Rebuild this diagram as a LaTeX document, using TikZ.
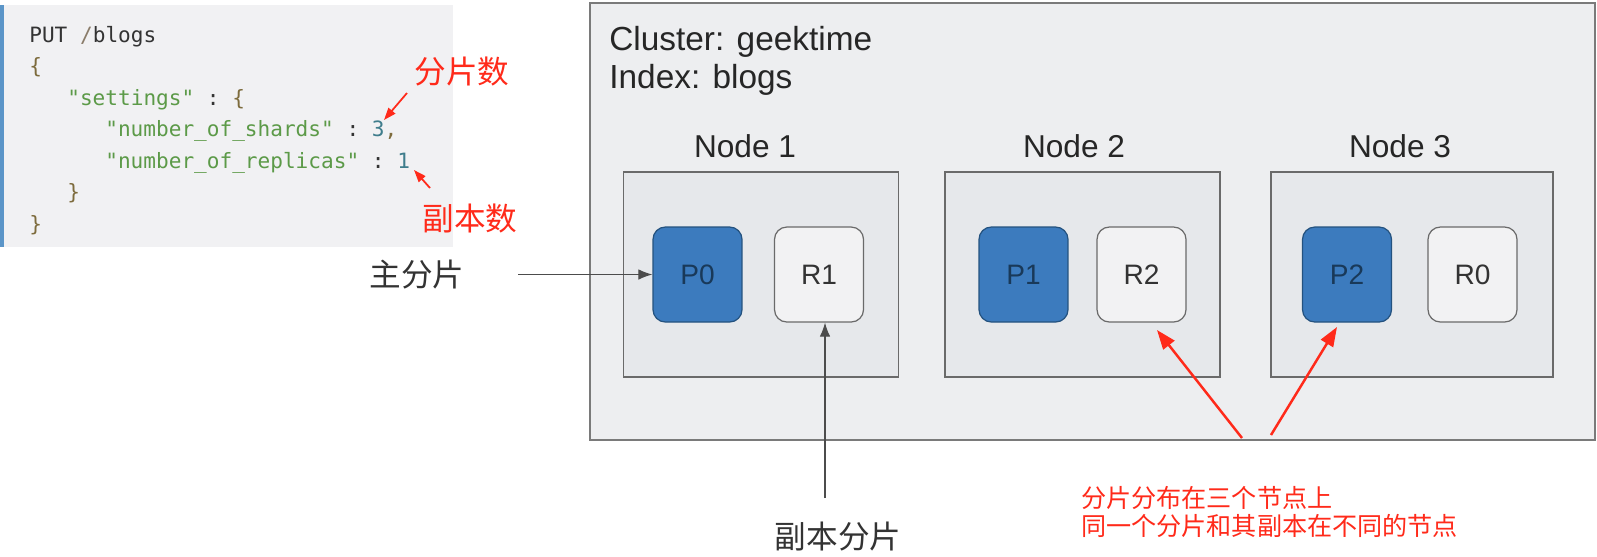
\documentclass[tikz,border=0pt]{standalone}
\usepackage{fontspec}
\setmainfont{Liberation Sans}
\setmonofont{DejaVu Sans Mono}
\newfontfamily\cjk{Noto Sans CJK SC}
\usepackage{tikz}
\usetikzlibrary{positioning,arrows.meta}

\definecolor{codebg}{HTML}{F1F1F3}
\definecolor{codebar}{HTML}{5B95C8}
\definecolor{codetxt}{HTML}{333333}
\definecolor{codeslash}{HTML}{8A7C6A}
\definecolor{codebrace}{HTML}{7D6B3C}
\definecolor{codestr}{HTML}{5C9A48}
\definecolor{codenum}{HTML}{3F7D8C}
\definecolor{clusterbg}{HTML}{EDEEF0}
\definecolor{clusterline}{HTML}{7A7A7A}
\definecolor{hostbg}{HTML}{E6E8EB}
\definecolor{hostline}{HTML}{6A6A6A}
\definecolor{primfill}{HTML}{3C7BBE}
\definecolor{primline}{HTML}{24527F}
\definecolor{repfill}{HTML}{F2F2F3}
\definecolor{noteRed}{HTML}{FF2A1A}

\begin{document}
\begin{tikzpicture}[
x=0.02cm, y=-0.02cm,
code/.style={
  font=\ttfamily\fontsize{12}{14}\selectfont,
  text=codetxt,
  anchor=base west,
  inner sep=0pt
  },
host/.style={
  draw=hostline,
  fill=hostbg,
  line width=0.8pt,
  minimum height=4.1cm
  },
shard/.style={
  draw=hostline,
  line width=0.7pt,
  rounded corners=7pt,
  minimum width=1.78cm,
  minimum height=1.9cm,
  font=\fontsize{16}{18}\selectfont
  },
primary/.style={
  shard,
  draw=primline,
  fill=primfill,
  text=primline!70!black
  },
replica/.style={
  shard,
  fill=repfill,
  text=codetxt
  },
hostlbl/.style={
  font=\fontsize{18}{20}\selectfont,
  text=black!85
  },
redlbl/.style={
  font=\cjk\fontsize{18}{20}\selectfont,
  text=noteRed
  },
blklbl/.style={
  font=\cjk\fontsize{18}{20}\selectfont,
  text=codetxt
  },
blkarrow/.style={
  draw=black!70,
  line width=0.6pt,
  -{Latex[length=8pt,width=6pt]}
  },
redarrow/.style={
  draw=noteRed,
  line width=1.4pt,
  -{Triangle[length=11pt,width=8pt]}
  },
smallred/.style={
  draw=noteRed,
  line width=1pt,
  -{Triangle[length=7pt,width=5pt]}
  }
]
\useasboundingbox (0,0) rectangle (1597,556);

% request on the left
\fill[codebg] (0,5) rectangle (453,247);
\fill[codebar] (0,5) rectangle (4,247);
\node[code] (ln1) at (29,42) {PUT \textcolor{codeslash}{/}blogs};
\node[code] (ln2) at (29,73.5) {\textcolor{codebrace}{\{}};
\node[code] (ln3) at (67,105) {\textcolor{codestr}{"settings"} : \textcolor{codebrace}{\{}};
\node[code] (ln4) at (105,136.5) {\textcolor{codestr}{"number\_of\_shards"} : \textcolor{codenum}{3}\textcolor{codebrace}{,}};
\node[code] (ln5) at (105,168) {\textcolor{codestr}{"number\_of\_replicas"} : \textcolor{codenum}{1}};
\node[code] (ln6) at (67,199.5) {\textcolor{codebrace}{\}}};
\node[code] (ln7) at (29,231) {\textcolor{codebrace}{\}}};

\node[redlbl] (lblShards) at (462,72) {分片数};
\node[redlbl] (lblReplicas) at (470,219) {副本数};
\coordinate (shardsTail) at (407,93);
\coordinate (shardsTip) at (384,120);
\coordinate (replTail) at (430,188);
\coordinate (replTip) at (414,170);
\draw[smallred] (shardsTail) -- (shardsTip);
\draw[smallred] (replTail) -- (replTip);

% cluster
\draw[draw=clusterline, fill=clusterbg, line width=0.8pt] (590,3) rectangle (1595,440);
\node[hostlbl, font=\fontsize{19}{21}\selectfont, anchor=base west, inner sep=0pt] (clusterName) at (609,50) {Cluster: geektime};
\node[hostlbl, font=\fontsize{19}{21}\selectfont, anchor=base west, inner sep=0pt] (indexName) at (609,88) {Index: blogs};

\foreach \hx/\hw/\lx/\px/\rx/\pn/\rn [count=\i] in
  {761/5.5/745/697.5/819/P0/R1,
   1082.5/5.5/1074/1023.5/1141.5/P1/R2,
   1412/5.64/1400/1347/1472.5/P2/R0}
{
  \node[host, minimum width=\hw cm] (host\i) at (\hx,274.5) {};
  \node[hostlbl] (hostlbl\i) at (\lx,146) {Node \i};
  \node[primary] (\pn) at (\px,274.5) {\pn};
  \node[replica] (\rn) at (\rx,274.5) {\rn};
}

% pointers
\node[blklbl] (lblPrimary) at (417,275) {主分片};
\node[blklbl] (lblReplica) at (838,537) {副本分片};
\coordinate (primTail) at (518,274.5);
\coordinate (repTail) at (825,498);
\draw[blkarrow] (primTail) -- (P0.west);
\draw[blkarrow] (repTail) -- (repTail |- R1.south);

\node[font=\cjk\fontsize{14.3}{15.6}\selectfont, text=noteRed, align=left, anchor=west] (note) at (1075,512)
  {分片分布在三个节点上\\同一个分片和其副本在不同的节点};
\coordinate (fanA) at (1242,438);
\coordinate (fanB) at (1271,435);
\coordinate (tipR2) at (1157,330);
\coordinate (tipP2) at (1337,327);
\draw[redarrow] (fanA) -- (tipR2);
\draw[redarrow] (fanB) -- (tipP2);
\end{tikzpicture}
\end{document}
